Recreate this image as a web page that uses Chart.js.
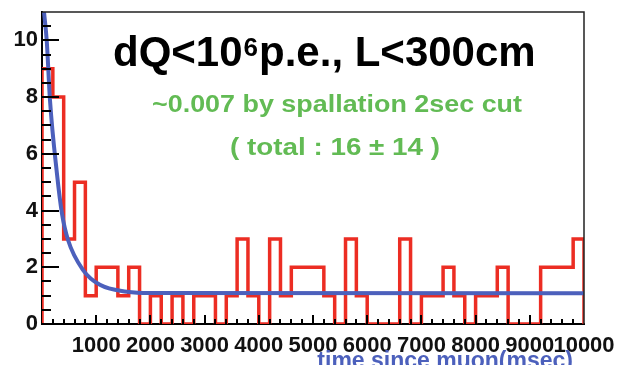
<!DOCTYPE html>
<html lang="en">
<head>
<meta charset="UTF-8">
<title>time since muon</title>
<script src="https://cdn.jsdelivr.net/npm/chart.js"></script>
<style>
  html, body { margin: 0; padding: 0; background: #fff; }
</style>
</head>
<body>
<canvas id="grafico" width="618" height="365"></canvas>
<script>
// counts per bin, 200 msec bins from 0 to 10000 msec
const binStart = 0
const binWidth = 200
const counts = [9, 8, 3, 5, 1, 2, 2, 1, 2, 0,
                1, 0, 1, 0, 1, 1, 0, 1, 3, 1,
                0, 3, 1, 2, 2, 2, 1, 0, 3, 1,
                0, 0, 0, 3, 0, 1, 1, 2, 1, 0,
                1, 1, 2, 0, 0, 0, 2, 2, 2, 3]

// fit curve (exponential + flat background), points along the line
const fitTime  = [37, 87, 147, 276, 368, 479, 755, 1068, 1565, 2000, 10000]
const fitValue = [11.0, 10.0, 7.9, 5.3, 3.9, 2.97, 1.91, 1.38, 1.14, 1.09, 1.08]

const xTicks = [1000, 2000, 3000, 4000, 5000, 6000, 7000, 8000, 9000, 10000]
const yTicks = [0, 2, 4, 6, 8, 10]

const titleMain = ['dQ<10', '6', 'p.e., L<300cm']
const noteLines = ['~0.007 by spallation 2sec cut', '( total : 16 \u00b1 14 )']
const xTitle = 'time since muon(msec)'

const red = 'rgb(236,45,35)'
const blue = 'rgb(76,96,188)'
const green = 'rgb(98,187,84)'

// outline of the histogram: up from 0 at the left edge, down to 0 at the right edge
const histPoints = [{ x: binStart, y: 0 }]
counts.forEach((c, i) => histPoints.push({ x: binStart + (i + 1) * binWidth, y: c }))
histPoints.push({ x: binStart + counts.length * binWidth, y: 0 })

const fitPoints = fitTime.map((t, i) => ({ x: t, y: fitValue[i] }))

const tickFont = { family: '"Liberation Sans", Arial, sans-serif', size: 22, weight: 'bold', lineHeight: 1 }

// keep the frame fixed: no extra room for the end labels
const semPadding = s => {
  s.paddingLeft = 0
  s.paddingRight = 0
  s.paddingTop = 0
  s.paddingBottom = 0
}

// ROOT style: ticks pointing into the frame, plus top/right frame lines
const marcas = {
  id: 'marcas',
  afterDatasetsDraw(chart) {
    const { ctx, chartArea: a, scales: { x, y } } = chart
    ctx.save()
    ctx.strokeStyle = '#000'
    ctx.lineWidth = 2
    ctx.beginPath()
    y.ticks.forEach(t => {
      if (t.value >= y.max) return
      const py = Math.round(y.getPixelForValue(t.value))
      const len = t.value % 2 === 0 ? 17 : 9
      ctx.moveTo(a.left, py)
      ctx.lineTo(a.left + len, py)
    })
    x.ticks.forEach(t => {
      if (t.value <= x.min || t.value >= x.max) return
      const px = Math.round(x.getPixelForValue(t.value))
      const len = t.value % 1000 === 0 ? 9 : 5
      ctx.moveTo(px, a.bottom)
      ctx.lineTo(px, a.bottom - len)
    })
    ctx.stroke()
    ctx.lineWidth = 1.5
    ctx.strokeStyle = '#222'
    ctx.beginPath()
    ctx.moveTo(a.left, a.top)
    ctx.lineTo(a.right, a.top)
    ctx.lineTo(a.right, a.bottom)
    ctx.stroke()
    ctx.restore()
  }
}

// text inside the frame and the axis title
const textos = {
  id: 'textos',
  afterDraw(chart) {
    const { ctx } = chart
    ctx.save()
    ctx.fillStyle = '#000'
    ctx.textBaseline = 'alphabetic'
    ctx.textAlign = 'left'
    let xp = 113
    ctx.font = 'bold 42px "Liberation Sans", Arial, sans-serif'
    ctx.fillText(titleMain[0], xp, 66)
    xp += ctx.measureText(titleMain[0]).width + 1
    ctx.font = 'bold 26px "Liberation Sans", Arial, sans-serif'
    ctx.fillText(titleMain[1], xp, 56)
    xp += ctx.measureText(titleMain[1]).width + 1
    ctx.font = 'bold 42px "Liberation Sans", Arial, sans-serif'
    ctx.fillText(titleMain[2], xp, 66)

    ctx.fillStyle = green
    ctx.font = 'bold 23px "Liberation Sans", Arial, sans-serif'
    const linhas = [[noteLines[0], 152, 370, 112], [noteLines[1], 230, 210, 155]]
    linhas.forEach(([txt, x0, w, base]) => {
      const sx = w / ctx.measureText(txt).width
      ctx.save()
      ctx.translate(x0, base)
      ctx.scale(sx, 1)
      ctx.fillText(txt, 0, 0)
      ctx.restore()
    })

    ctx.fillStyle = blue
    ctx.textAlign = 'right'
    ctx.font = 'bold 23px "Liberation Sans", Arial, sans-serif'
    ctx.fillText(xTitle, 573, 368)
    ctx.restore()
  }
}

new Chart(document.getElementById('grafico'), {
  type: 'line',
  data: {
    datasets: [{
      label: 'fit',
      data: fitPoints,
      borderColor: blue,
      borderWidth: 4,
      pointRadius: 0,
      cubicInterpolationMode: 'monotone',
      order: 0
    }, {
      label: 'events',
      data: histPoints,
      borderColor: red,
      borderWidth: 3.5,
      pointRadius: 0,
      stepped: 'after',
      order: 1
    }]
  },
  options: {
    responsive: false,
    animation: false,
    layout: { padding: { top: 12, right: 34, left: 0, bottom: 0 } },
    plugins: { legend: { display: false }, tooltip: { enabled: false } },
    scales: {
      x: {
        type: 'linear',
        min: 0,
        max: 10000,
        afterFit: s => { s.height = 41; semPadding(s) },
        grid: { drawOnChartArea: false, drawTicks: false },
        border: { color: '#000', width: 2 },
        ticks: {
          stepSize: 200,
          autoSkip: false,
          maxRotation: 0,
          minRotation: 0,
          padding: 11,
          color: '#111',
          font: tickFont,
          callback: v => xTicks.includes(v) ? String(v) : ''
        }
      },
      y: {
        min: 0,
        max: 11,
        afterFit: s => { s.width = 42; semPadding(s) },
        grid: { drawOnChartArea: false, drawTicks: false },
        border: { color: '#000', width: 2 },
        ticks: {
          stepSize: 0.5,
          autoSkip: false,
          padding: 4,
          color: '#111',
          font: tickFont,
          callback: v => yTicks.includes(v) ? String(v) : ''
        }
      }
    }
  },
  plugins: [marcas, textos]
})
</script>
</body>
</html>
